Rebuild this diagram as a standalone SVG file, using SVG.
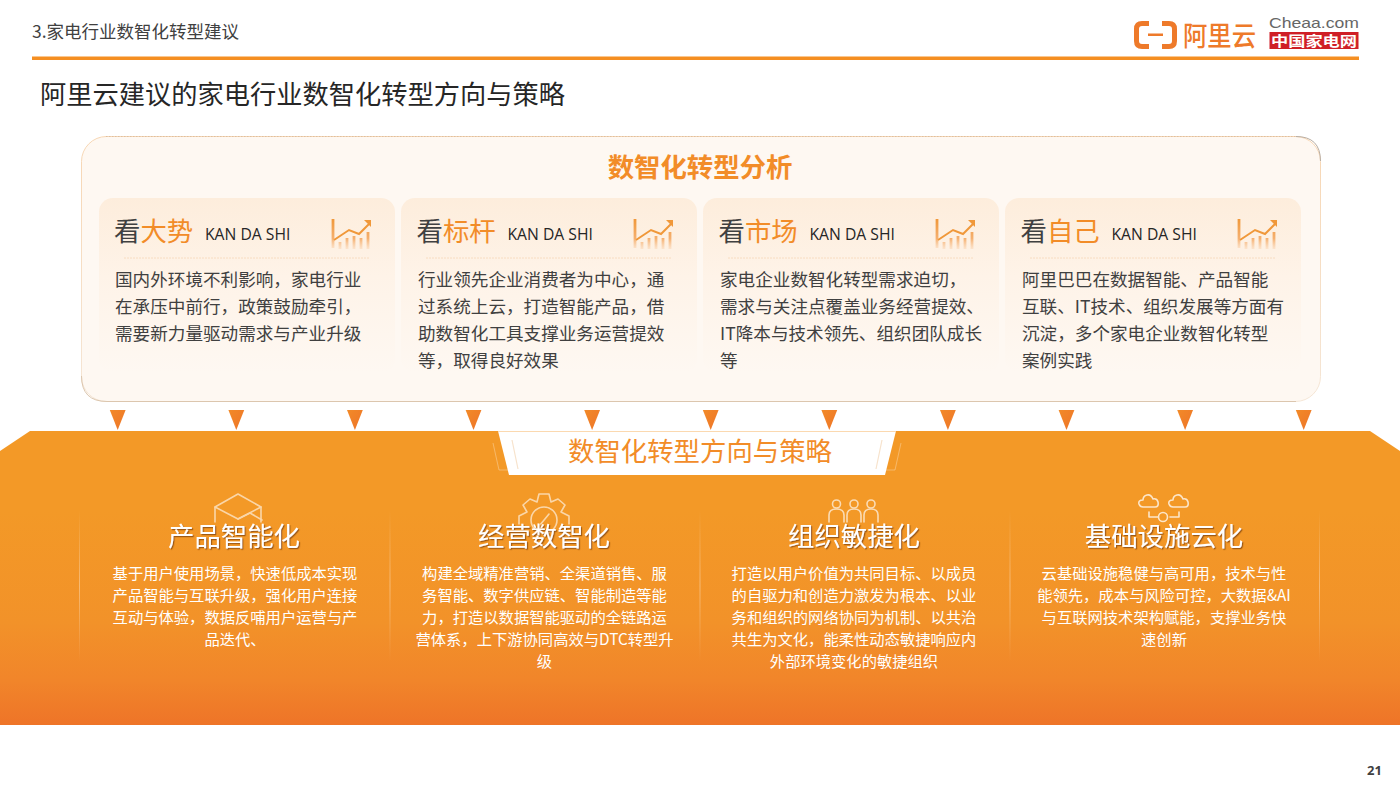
<svg xmlns="http://www.w3.org/2000/svg" width="1400" height="788" viewBox="0 0 1400 788">
<style>
text{font-family:"Noto Sans CJK SC","Noto Sans",sans-serif}
.body{font-size:17.6px;fill:#404040}
.head{font-size:26.4px}
.dark{fill:#404040}
.or{fill:#f28c28}
.en{font-family:"Open Sans","Noto Sans",sans-serif;font-size:15.7px;fill:#262626}
.h2{font-size:26.4px;fill:#fff;text-anchor:middle;filter:url(#sh)}
.small{font-size:15.3px;fill:#fff;text-anchor:middle}
.ico{fill:none;stroke:#fff;stroke-width:1.6;stroke-linejoin:round;stroke-linecap:round}
.chart{fill:none;stroke:url(#chartG);stroke-width:2.8}
.vl{fill:url(#vl)}
</style>
<defs>
<linearGradient id="bg" x1="0" y1="0" x2="0" y2="1"><stop offset="0" stop-color="#f39927"/><stop offset=".27" stop-color="#f39927"/><stop offset=".65" stop-color="#f29229"/><stop offset=".85" stop-color="#f1852a"/><stop offset="1" stop-color="#ee7428"/></linearGradient>
<linearGradient id="card" x1="0" y1="0" x2="0" y2="1"><stop offset="0" stop-color="#fdeddc"/><stop offset=".45" stop-color="#fef3e8"/><stop offset="1" stop-color="#fef8f2"/></linearGradient>
<linearGradient id="tri" x1="0" y1="0" x2="1" y2="1"><stop offset="0" stop-color="#f28a28"/><stop offset="1" stop-color="#ee7428"/></linearGradient>
<linearGradient id="chartG" gradientUnits="userSpaceOnUse" x1="0" y1="0" x2="0" y2="30"><stop offset="0" stop-color="#f0983a"/><stop offset=".65" stop-color="#f5b070"/><stop offset="1" stop-color="#f8c596" stop-opacity=".3"/></linearGradient>
<linearGradient id="vl" x1="0" y1="0" x2="0" y2="1"><stop offset="0" stop-color="#fff" stop-opacity="0"/><stop offset=".5" stop-color="#fff" stop-opacity=".35"/><stop offset="1" stop-color="#fff" stop-opacity="0"/></linearGradient>
<linearGradient id="bord" x1="0" y1="0" x2="0" y2="1"><stop offset="0" stop-color="#f7d6b3"/><stop offset="1" stop-color="#f5e6d6"/></linearGradient>
<filter id="sh" x="-5%" y="-10%" width="110%" height="125%"><feDropShadow dx="1.2" dy="1.2" stdDeviation=".3" flood-color="#8a4a10" flood-opacity=".8"/></filter>
<g id="chartIcon">
<path class="chart" d="M1 0V29"/>
<path d="M2 21L17 11L27 15L37 5" fill="none" stroke="#f0983a" stroke-width="2"/>
<path d="M32 1H39V8Z" fill="#f0983a"/>
<path class="chart" d="M8 30V23M15 30V19M22 30V17M29 30V19M36 30V13"/>
</g>
</defs>

<g id="header">
<text x="32" y="38" font-size="17.5" fill="#404040">3.家电行业数智化转型建议</text>
<rect x="32" y="56.5" width="1327" height="3.5" fill="#f58f22"/>
<text x="40" y="104" font-size="26.25" fill="#262626">阿里云建议的家电行业数智化转型方向与策略</text>
</g>
<g id="logo">
<path d="M1149 23.500H1142Q1136.500 23.500 1136.500 29V41Q1136.500 46.500 1142 46.500H1149M1162 23.500H1169Q1174.500 23.500 1174.500 29V41Q1174.500 46.500 1169 46.500H1162" fill="none" stroke="#ee7a2a" stroke-width="5"/>
<rect x="1148" y="33.500" width="15" height="2.500" fill="#ee7a2a"/>
<text x="1183" y="45.500" font-size="27" fill="#ee7a2a" font-weight="500" textLength="73" lengthAdjust="spacingAndGlyphs">阿里云</text>
<text x="1269" y="27.500" font-size="15" fill="#666" textLength="90" lengthAdjust="spacingAndGlyphs" style="font-family:'Liberation Sans',sans-serif">Cheaa.com</text>
<rect x="1269.500" y="32" width="89" height="17" fill="#cf1f26"/>
<text x="1271" y="46" font-size="13.500" font-weight="700" fill="#fff" textLength="86" lengthAdjust="spacingAndGlyphs">中国家电网</text>
</g>

<g id="analysis-panel">
<rect x="81.500" y="136.500" width="1239" height="265" rx="25" fill="#fef8f2" stroke="url(#bord)" stroke-width="1"/>
<path d="M106 136.500H1296" fill="none" stroke="#dcbfa0" stroke-dasharray="1.500 1.500"/>
<path d="M1296 136.500Q1320.500 136.500 1320.500 161" fill="none" stroke="#b9aea3"/>
<path d="M81.500 376Q81.500 401.500 107 401.500H1296" fill="none" stroke="#dcc6ae"/>
<text x="700" y="177" text-anchor="middle" font-size="26.400" font-weight="700" fill="#f28c28">数智化转型分析</text>
</g>

<g id="card1">
<rect x="99" y="198" width="296" height="175" rx="14" fill="url(#card)"/>
<text x="114" y="241" class="head"><tspan class="dark">看</tspan><tspan class="or">大势</tspan></text>
<text x="205" y="240" class="en">KAN DA SHI</text>
<use href="#chartIcon" x="332" y="219"/>
<path d="M124 258H370" stroke="#f8dcc0" stroke-dasharray="2 1"/>
<text class="body"><tspan x="115" y="286">国内外环境不利影响，家电行业</tspan><tspan x="115" y="313">在承压中前行，政策鼓励牵引，</tspan><tspan x="115" y="340">需要新力量驱动需求与产业升级</tspan></text>
</g>
<g id="card2">
<rect x="401" y="198" width="296" height="175" rx="14" fill="url(#card)"/>
<text x="416.500" y="241" class="head"><tspan class="dark">看</tspan><tspan class="or">标杆</tspan></text>
<text x="507.500" y="240" class="en">KAN DA SHI</text>
<use href="#chartIcon" x="634" y="219"/>
<path d="M426 258H672" stroke="#f8dcc0" stroke-dasharray="2 1"/>
<text class="body"><tspan x="418" y="286">行业领先企业消费者为中心，通</tspan><tspan x="418" y="313">过系统上云，打造智能产品，借</tspan><tspan x="418" y="340">助数智化工具支撑业务运营提效</tspan><tspan x="418" y="367">等，取得良好效果</tspan></text>
</g>
<g id="card3">
<rect x="703" y="198" width="296" height="175" rx="14" fill="url(#card)"/>
<text x="718.500" y="241" class="head"><tspan class="dark">看</tspan><tspan class="or">市场</tspan></text>
<text x="809.500" y="240" class="en">KAN DA SHI</text>
<use href="#chartIcon" x="936" y="219"/>
<path d="M728 258H974" stroke="#f8dcc0" stroke-dasharray="2 1"/>
<text class="body"><tspan x="720" y="286">家电企业数智化转型需求迫切，</tspan><tspan x="720" y="313">需求与关注点覆盖业务经营提效、</tspan><tspan x="720" y="340">IT降本与技术领先、组织团队成长</tspan><tspan x="720" y="367">等</tspan></text>
</g>
<g id="card4">
<rect x="1005" y="198" width="296" height="175" rx="14" fill="url(#card)"/>
<text x="1020.500" y="241" class="head"><tspan class="dark">看</tspan><tspan class="or">自己</tspan></text>
<text x="1111.500" y="240" class="en">KAN DA SHI</text>
<use href="#chartIcon" x="1238" y="219"/>
<path d="M1030 258H1276" stroke="#f8dcc0" stroke-dasharray="2 1"/>
<text class="body"><tspan x="1022" y="286">阿里巴巴在数据智能、产品智能</tspan><tspan x="1022" y="313">互联、IT技术、组织发展等方面有</tspan><tspan x="1022" y="340">沉淀，多个家电企业数智化转型</tspan><tspan x="1022" y="367">案例实践</tspan></text>
</g>

<g id="strategy-band">
<path d="M0 451L30 431H1370L1400 451V725H0Z" fill="url(#bg)"/>
<rect class="vl" x="79" y="510" width="1" height="152"/>
<rect class="vl" x="389.500" y="510" width="1" height="152"/>
<rect class="vl" x="699.500" y="510" width="1" height="152"/>
<rect class="vl" x="1009.500" y="510" width="1" height="152"/>
<rect class="vl" x="1319" y="510" width="1" height="152"/>
</g>

<g id="connectors" fill="url(#tri)">
<path d="M109.800 410H125.600L117.700 430Z"/>
<path d="M228.400 410H244.200L236.300 430Z"/>
<path d="M347 410H362.800L354.900 430Z"/>
<path d="M465.600 410H481.400L473.500 430Z"/>
<path d="M584.200 410H600L592.100 430Z"/>
<path d="M702.800 410H718.600L710.700 430Z"/>
<path d="M821.400 410H837.200L829.300 430Z"/>
<path d="M940 410H955.800L947.900 430Z"/>
<path d="M1058.600 410H1074.400L1066.500 430Z"/>
<path d="M1177.200 410H1193L1185.100 430Z"/>
<path d="M1295.800 410H1311.600L1303.700 430Z"/>
</g>

<g id="ribbon">
<path d="M498 431H896L885 475H509Z" fill="#fff"/>
<path d="M498 431.500H896" stroke="#fbd9b0" stroke-width="1"/>
<path d="M493 443L499 470H508M901 443L895 470H886" fill="none" stroke="#fff" stroke-opacity=".3"/>
<path d="M512 440L518 469M882 440L876 469" fill="none" stroke="#f7e3cc" stroke-width="1.200"/>
<text x="700" y="461" text-anchor="middle" font-size="26.400" fill="#f28c28">数智化转型方向与策略</text>
</g>

<g id="strategy1">
<g class="ico" style="opacity:.6">
<path d="M238 494L261 507L238 519L215 507Z"/><path d="M215 507V522M261 507V522"/><path d="M238 519L250 513L262 520"/>
</g>
<text x="234" y="546" class="h2">产品智能化</text>
<text class="small"><tspan x="235" y="579">基于用户使用场景，快速低成本实现</tspan><tspan x="235" y="601">产品智能与互联升级，强化用户连接</tspan><tspan x="235" y="623">互动与体验，数据反哺用户运营与产</tspan><tspan x="235" y="645">品迭代、</tspan></text>
</g>
<g id="strategy2">
<g class="ico" style="opacity:.6">
<path d="M539 494H549L551 502L558 499L565 505L561 512L569 516V524M539 494L537 502L530 499L523 505L527 512L519 516V524"/>
<circle cx="544" cy="520" r="13"/><path d="M540 525L549 514"/>
</g>
<text x="544" y="546" class="h2">经营数智化</text>
<text class="small"><tspan x="544.500" y="579">构建全域精准营销、全渠道销售、服</tspan><tspan x="544.500" y="601">务智能、数字供应链、智能制造等能</tspan><tspan x="544.500" y="623">力，打造以数据智能驱动的全链路运</tspan><tspan x="544.500" y="645">营体系，上下游协同高效与DTC转型升</tspan><tspan x="544.500" y="667">级</tspan></text>
</g>
<g id="strategy3">
<g class="ico" style="opacity:.65">
<circle cx="836.500" cy="504" r="4"/><circle cx="854" cy="504" r="4"/><circle cx="871" cy="504" r="4"/>
<path d="M829 522V515Q829 509 836.500 509Q844 509 844 515V522M847 522V515Q847 509 854 509Q861 509 861 515V522M864 522V515Q864 509 871 509Q878 509 878 515V522"/>
</g>
<text x="854" y="546" class="h2">组织敏捷化</text>
<text class="small"><tspan x="854" y="579">打造以用户价值为共同目标、以成员</tspan><tspan x="854" y="601">的自驱力和创造力激发为根本、以业</tspan><tspan x="854" y="623">务和组织的网络协同为机制、以共治</tspan><tspan x="854" y="645">共生为文化，能柔性动态敏捷响应内</tspan><tspan x="854" y="667">外部环境变化的敏捷组织</tspan></text>
</g>
<g id="strategy4">
<g class="ico" style="opacity:.75">
<path d="M1143 507H1155Q1159 507 1158 502Q1157 498 1153 499Q1151 494 1147 495Q1143 496 1143 500Q1138 500 1139 504Q1140 507 1143 507Z"/>
<path d="M1173 507H1185Q1189 507 1188 502Q1187 498 1183 499Q1181 494 1177 495Q1173 496 1173 500Q1168 500 1169 504Q1170 507 1173 507Z"/>
<path d="M1149 512V517H1158M1179 512V517H1170"/><circle cx="1163" cy="517" r="4.500"/>
</g>
<text x="1164" y="546" class="h2">基础设施云化</text>
<text class="small"><tspan x="1164" y="579">云基础设施稳健与高可用，技术与性</tspan><tspan x="1164" y="601">能领先，成本与风险可控，大数据&amp;AI</tspan><tspan x="1164" y="623">与互联网技术架构赋能，支撑业务快</tspan><tspan x="1164" y="645">速创新</tspan></text>
</g>

<text id="page" x="1367" y="775" font-size="13" font-weight="700" fill="#404040" style="font-family:'Noto Sans',sans-serif">21</text>
</svg>
